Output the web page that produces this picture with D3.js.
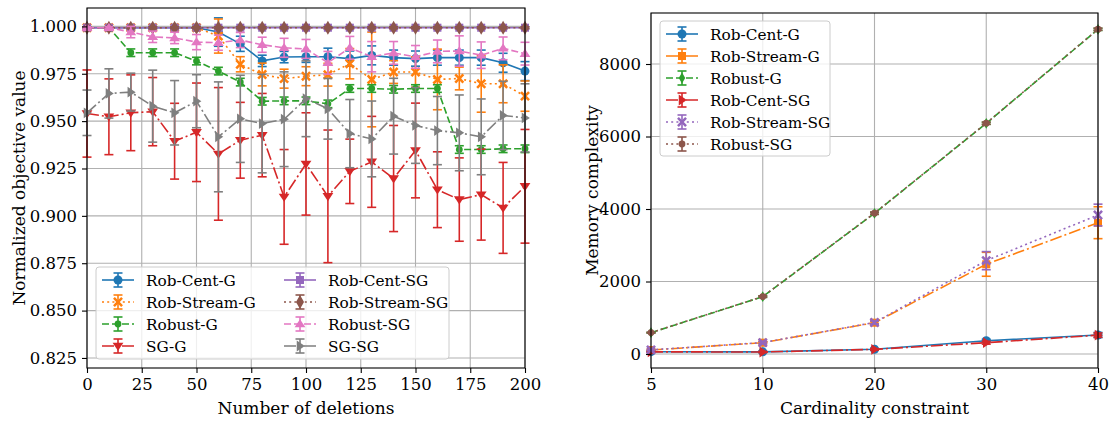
<!DOCTYPE html>
<html>
<head>
<meta charset="utf-8">
<script src="https://cdn.jsdelivr.net/npm/d3@7"></script>
<style>
  body { margin: 0; background: #fff; }
  text { font-family: "DejaVu Serif", serif; fill: #000; }
</style>
</head>
<body>
<div id="chart"></div>
<script>
// ---- left panel data: normalized objective vs number of deletions ----
var deletions = [0, 10, 20, 30, 40, 50, 60, 70, 80, 90, 100, 110, 120, 130, 140, 150, 160, 170, 180, 190, 200];
var delTicks = [0, 25, 50, 75, 100, 125, 150, 175, 200];
var objTicks = [0.825, 0.850, 0.875, 0.900, 0.925, 0.950, 0.975, 1.000];

var robCentG    = [0.9993, 0.9993, 0.9993, 0.9993, 0.9993, 0.9993, 0.9970, 0.9908, 0.9818, 0.9838, 0.9840, 0.9840, 0.9830, 0.9847, 0.9835, 0.9830, 0.9835, 0.9835, 0.9835, 0.9808, 0.9764];
var robCentGErr = [0.0004, 0.0004, 0.0004, 0.0004, 0.0004, 0.0004, 0.0075, 0.004, 0.003, 0.003, 0.003, 0.0045, 0.004, 0.005, 0.004, 0.004, 0.004, 0.004, 0.004, 0.005, 0.005];
var robStreamG    = [0.9993, 0.9993, 0.9993, 0.9993, 0.9993, 0.9993, 0.9949, 0.9800, 0.9746, 0.9724, 0.9737, 0.9745, 0.9803, 0.9720, 0.9759, 0.9759, 0.9720, 0.9725, 0.9697, 0.9697, 0.9632];
var robStreamGErr = [0.0004, 0.0004, 0.0004, 0.0004, 0.0004, 0.0004, 0.009, 0.004, 0.006, 0.005, 0.005, 0.006, 0.008, 0.025, 0.006, 0.008, 0.016, 0.006, 0.015, 0.01, 0.008];
var robustG    = [0.9993, 0.9993, 0.9861, 0.9861, 0.9861, 0.9817, 0.9764, 0.9706, 0.9605, 0.9607, 0.9607, 0.9591, 0.9672, 0.9672, 0.9668, 0.9672, 0.9672, 0.9350, 0.9350, 0.9354, 0.9354];
var robustGErr = [0.0004, 0.0004, 0.002, 0.002, 0.002, 0.002, 0.002, 0.002, 0.002, 0.002, 0.002, 0.002, 0.002, 0.002, 0.002, 0.002, 0.002, 0.002, 0.002, 0.002, 0.002];
var sgG    = [0.9540, 0.9523, 0.9544, 0.9550, 0.9394, 0.9441, 0.9327, 0.9399, 0.9426, 0.9100, 0.9274, 0.9103, 0.9235, 0.9285, 0.9197, 0.9345, 0.9138, 0.9086, 0.9112, 0.9042, 0.9156];
var sgGErr = [0.023, 0.02, 0.02, 0.018, 0.02, 0.026, 0.035, 0.02, 0.022, 0.025, 0.027, 0.035, 0.017, 0.024, 0.028, 0.025, 0.02, 0.022, 0.024, 0.024, 0.03];
var robCentSG    = [0.9993, 0.9993, 0.9993, 0.9993, 0.9993, 0.9993, 0.9993, 0.9993, 0.9993, 0.9993, 0.9993, 0.9993, 0.9993, 0.9993, 0.9993, 0.9993, 0.9993, 0.9993, 0.9993, 0.9993, 0.9993];
var robCentSGErr = [0.0005, 0.0005, 0.0005, 0.0005, 0.0005, 0.0005, 0.0005, 0.0005, 0.0005, 0.0005, 0.0005, 0.0005, 0.0005, 0.0005, 0.0005, 0.0005, 0.0005, 0.0005, 0.0005, 0.0005, 0.0005];
var robStreamSG    = [0.9993, 0.9993, 0.9993, 0.9993, 0.9993, 0.9993, 0.9993, 0.9993, 0.9993, 0.9993, 0.9993, 0.9993, 0.9993, 0.9993, 0.9993, 0.9993, 0.9993, 0.9993, 0.9993, 0.9993, 0.9993];
var robStreamSGErr = [0.0005, 0.0005, 0.0005, 0.0005, 0.0005, 0.0005, 0.0005, 0.0005, 0.0005, 0.0005, 0.0005, 0.0005, 0.0005, 0.0005, 0.0005, 0.0005, 0.0005, 0.0005, 0.0005, 0.0005, 0.0005];
var robustSG    = [0.9993, 0.9993, 0.9970, 0.9945, 0.9939, 0.9917, 0.9914, 0.9928, 0.9903, 0.9887, 0.9881, 0.9808, 0.9887, 0.9840, 0.9860, 0.9839, 0.9868, 0.9870, 0.9848, 0.9884, 0.9856];
var robustSGErr = [0.0005, 0.0005, 0.003, 0.003, 0.003, 0.004, 0.004, 0.004, 0.004, 0.005, 0.005, 0.006, 0.006, 0.008, 0.006, 0.006, 0.006, 0.008, 0.007, 0.006, 0.006];
var sgSG    = [0.9544, 0.9646, 0.9653, 0.9579, 0.9544, 0.9605, 0.9417, 0.9512, 0.9487, 0.9510, 0.9618, 0.9565, 0.9434, 0.9406, 0.9526, 0.9477, 0.9450, 0.9438, 0.9417, 0.9530, 0.9517];
var sgSGErr = [0.012, 0.013, 0.01, 0.019, 0.017, 0.014, 0.029, 0.023, 0.026, 0.025, 0.02, 0.016, 0.018, 0.02, 0.02, 0.02, 0.018, 0.02, 0.02, 0.018, 0.018];

// ---- right panel data: memory vs cardinality constraint ----
var cardinality = ["5", "10", "20", "30", "40"];
var memTicks = [0, 2000, 4000, 6000, 8000];
var memRobCentG       = [64, 60, 130, 367, 524];
var memRobCentGErr    = [15, 15, 20, 40, 70];
var memRobStreamG     = [110, 312, 864, 2475, 3622];
var memRobStreamGErr  = [20, 30, 40, 330, 440];
var memRobustG        = [588, 1581, 3881, 6364, 8955];
var memRobustGErr     = [10, 20, 30, 30, 30];
var memRobCentSG      = [60, 55, 128, 312, 520];
var memRobCentSGErr   = [15, 15, 20, 40, 60];
var memRobStreamSG    = [115, 315, 870, 2575, 3834];
var memRobStreamSGErr = [20, 30, 40, 250, 300];
var memRobustSG       = [590, 1585, 3885, 6368, 8960];
var memRobustSGErr    = [10, 20, 30, 30, 30];

var C = { blue: "#1f77b4", orange: "#ff7f0e", green: "#2ca02c", red: "#d62728",
          purple: "#9467bd", brown: "#8c564b", pink: "#e377c2", gray: "#7f7f7f" };
var DASH = { solid: null, dashed: "7,3", dotted: "2,3.2", dashdot: "12,3,2,3" };

var W = 1113, H = 422;
var svg = d3.select("#chart").append("svg").attr("width", W).attr("height", H);

// marker path generator (roughly matplotlib marker shapes)
function marker(kind, s) {
  if (kind == "o") { return d3.symbol(d3.symbolCircle, s * s * 0.78)(); }
  if (kind == "s") { return d3.symbol(d3.symbolSquare, s * s * 0.8)(); }
  if (kind == "D") { return d3.symbol(d3.symbolDiamond, s * s * 0.7)(); }
  if (kind == "d") { var r = s * 0.6; return "M0," + (-r) + "L" + (r * 0.6) + ",0L0," + r + "L" + (-r * 0.6) + ",0Z"; }
  if (kind == "h") { return d3.symbol(d3.symbolCircle, s * s * 0.45)(); }
  var t = s * 0.6;
  if (kind == "v") { return "M" + (-t) + "," + (-t * 0.6) + "L" + t + "," + (-t * 0.6) + "L0," + (t * 0.9) + "Z"; }
  if (kind == "^") { return "M" + (-t) + "," + (t * 0.6) + "L" + t + "," + (t * 0.6) + "L0," + (-t * 0.9) + "Z"; }
  if (kind == ">") { return "M" + (-t * 0.6) + "," + (-t) + "L" + (-t * 0.6) + "," + t + "L" + (t * 0.9) + ",0Z"; }
  // filled X
  var a = s * 0.55, b = s * 0.2;
  return "M" + (-a) + "," + (-a + b) + "L" + (-a + b) + "," + (-a) + "L0," + (-b) + "L" + (a - b) + "," + (-a) +
    "L" + a + "," + (-a + b) + "L" + b + ",0L" + a + "," + (a - b) + "L" + (a - b) + "," + a + "L0," + b +
    "L" + (-a + b) + "," + a + "L" + (-a) + "," + (a - b) + "L" + (-b) + ",0Z";
}

function drawPanel(g, opt) {
  var x = opt.x, y = opt.y;
  var x0 = x.range()[0], x1 = x.range()[1], y0 = y.range()[0], y1 = y.range()[1];

  // grid
  g.append("g").selectAll("line").data(opt.xGrid).enter().append("line")
    .attr("x1", function (d) { return x(d); }).attr("x2", function (d) { return x(d); })
    .attr("y1", y0).attr("y2", y1).attr("stroke", "#b0b0b0").attr("stroke-width", 1.1);
  g.append("g").selectAll("line").data(opt.yTicks).enter().append("line")
    .attr("y1", function (d) { return y(d); }).attr("y2", function (d) { return y(d); })
    .attr("x1", x0).attr("x2", x1).attr("stroke", "#b0b0b0").attr("stroke-width", 1.1);

  var plot = g.append("g");
  opt.series.forEach(function (s) {
    var pts = opt.xs.map(function (xv, i) { return { x: xv, y: s.values[i], e: s.err[i] }; });
    var sg = plot.append("g");
    // error bars
    sg.selectAll(".eb").data(pts).enter().append("line")
      .attr("x1", function (d) { return x(d.x); }).attr("x2", function (d) { return x(d.x); })
      .attr("y1", function (d) { return y(d.y - d.e); }).attr("y2", function (d) { return y(d.y + d.e); })
      .attr("stroke", s.color).attr("stroke-width", 1.6);
    ["lo", "hi"].forEach(function (k) {
      sg.selectAll(".cap" + k).data(pts).enter().append("line")
        .attr("x1", function (d) { return x(d.x) - 4.5; }).attr("x2", function (d) { return x(d.x) + 4.5; })
        .attr("y1", function (d) { return y(k == "lo" ? d.y - d.e : d.y + d.e); })
        .attr("y2", function (d) { return y(k == "lo" ? d.y - d.e : d.y + d.e); })
        .attr("stroke", s.color).attr("stroke-width", 1.6);
    });
    var line = d3.line().x(function (d) { return x(d.x); }).y(function (d) { return y(d.y); });
    sg.append("path").datum(pts).attr("d", line).attr("fill", "none")
      .attr("stroke", s.color).attr("stroke-width", 1.6).attr("stroke-dasharray", DASH[s.dash]);
    sg.selectAll(".mk").data(pts).enter().append("path")
      .attr("transform", function (d) { return "translate(" + x(d.x) + "," + y(d.y) + ")"; })
      .attr("d", marker(s.marker, opt.msize)).attr("fill", s.color);
  });

  // frame drawn on top
  g.append("rect").attr("x", x0).attr("y", y1).attr("width", x1 - x0).attr("height", y0 - y1)
    .attr("fill", "none").attr("stroke", "#000").attr("stroke-width", 1.1);

  var xa = g.append("g").attr("transform", "translate(0," + y0 + ")")
    .call(opt.xAxis.tickSize(5).tickPadding(5));
  var ya = g.append("g").attr("transform", "translate(" + x0 + ",0)")
    .call(d3.axisLeft(y).tickValues(opt.yTicks).tickFormat(opt.yFormat).tickSize(5).tickPadding(5));
  [xa, ya].forEach(function (a) {
    a.select(".domain").remove();
    a.selectAll("text").style("font-size", "16.5px").style("font-family", "DejaVu Serif");
    a.selectAll("line").attr("stroke-width", 1.1);
  });

  g.append("text").attr("x", (x0 + x1) / 2).attr("y", 414).attr("text-anchor", "middle")
    .style("font-size", "17px").text(opt.xLabel);
  g.append("text").attr("transform", "translate(" + opt.yLabelX + "," + ((y0 + y1) / 2) + ") rotate(-90)")
    .attr("text-anchor", "middle").style("font-size", "17px").text(opt.yLabel);

  // legend
  var L = opt.legend;
  g.append("rect").attr("x", L.x).attr("y", L.y).attr("width", L.w).attr("height", L.h)
    .attr("rx", 3).attr("fill", "#fff").attr("fill-opacity", 0.8).attr("stroke", "#cccccc");
  opt.series.forEach(function (s, i) {
    var col = Math.floor(i / L.rows), row = i % L.rows;
    var lx = L.x + 6 + col * L.colW, ly = L.y + 13 + row * L.rowH;
    var lg = g.append("g");
    lg.append("line").attr("x1", lx).attr("x2", lx + 32).attr("y1", ly).attr("y2", ly)
      .attr("stroke", s.color).attr("stroke-width", 1.6).attr("stroke-dasharray", DASH[s.dash]);
    lg.append("line").attr("x1", lx + 16).attr("x2", lx + 16).attr("y1", ly - 7).attr("y2", ly + 7)
      .attr("stroke", s.color).attr("stroke-width", 1.6);
    [-7, 7].forEach(function (o) {
      lg.append("line").attr("x1", lx + 11.5).attr("x2", lx + 20.5).attr("y1", ly + o).attr("y2", ly + o)
        .attr("stroke", s.color).attr("stroke-width", 1.6);
    });
    lg.append("path").attr("transform", "translate(" + (lx + 16) + "," + ly + ")")
      .attr("d", marker(s.marker, opt.msize)).attr("fill", s.color);
    lg.append("text").attr("x", lx + 44).attr("y", ly + 5.5).style("font-size", "15.3px").text(s.name);
  });
}

// left panel
var xl = d3.scaleLinear().domain([0, 200]).range([87, 525]);
var yl = d3.scaleLinear().domain([0.8197, 1.0097]).range([368, 8]);
drawPanel(svg.append("g"), {
  x: xl, y: yl, xs: deletions, xGrid: delTicks, yTicks: objTicks,
  xAxis: d3.axisBottom(xl).tickValues(delTicks).tickFormat(d3.format("d")),
  yFormat: d3.format(".3f"), msize: 9,
  xLabel: "Number of deletions", yLabel: "Normalized objective value", yLabelX: 25,
  legend: { x: 96, y: 267, w: 353, h: 92, rows: 4, rowH: 22, colW: 182 },
  series: [
    { name: "Rob-Cent-G", values: robCentG, err: robCentGErr, color: C.blue, dash: "solid", marker: "o" },
    { name: "Rob-Stream-G", values: robStreamG, err: robStreamGErr, color: C.orange, dash: "dotted", marker: "X" },
    { name: "Robust-G", values: robustG, err: robustGErr, color: C.green, dash: "dashed", marker: "h" },
    { name: "SG-G", values: sgG, err: sgGErr, color: C.red, dash: "dashdot", marker: "v" },
    { name: "Rob-Cent-SG", values: robCentSG, err: robCentSGErr, color: C.purple, dash: "solid", marker: "s" },
    { name: "Rob-Stream-SG", values: robStreamSG, err: robStreamSGErr, color: C.brown, dash: "dotted", marker: "D" },
    { name: "Robust-SG", values: robustSG, err: robustSGErr, color: C.pink, dash: "dashed", marker: "^" },
    { name: "SG-SG", values: sgSG, err: sgSGErr, color: C.gray, dash: "dashdot", marker: ">" }
  ]
});

// right panel
var xr = d3.scalePoint().domain(cardinality).range([651, 1098]);
var yr = d3.scaleLinear().domain([-386, 9407]).range([368, 13]);
drawPanel(svg.append("g"), {
  x: xr, y: yr, xs: cardinality, xGrid: cardinality, yTicks: memTicks,
  xAxis: d3.axisBottom(xr), yFormat: d3.format("d"), msize: 9,
  xLabel: "Cardinality constraint", yLabel: "Memory complexity", yLabelX: 598,
  legend: { x: 660, y: 21, w: 170, h: 135, rows: 6, rowH: 22, colW: 0 },
  series: [
    { name: "Rob-Cent-G", values: memRobCentG, err: memRobCentGErr, color: C.blue, dash: "solid", marker: "o" },
    { name: "Rob-Stream-G", values: memRobStreamG, err: memRobStreamGErr, color: C.orange, dash: "dashdot", marker: "s" },
    { name: "Robust-G", values: memRobustG, err: memRobustGErr, color: C.green, dash: "dashed", marker: "d" },
    { name: "Rob-Cent-SG", values: memRobCentSG, err: memRobCentSGErr, color: C.red, dash: "dashdot", marker: ">" },
    { name: "Rob-Stream-SG", values: memRobStreamSG, err: memRobStreamSGErr, color: C.purple, dash: "dotted", marker: "X" },
    { name: "Robust-SG", values: memRobustSG, err: memRobustSGErr, color: C.brown, dash: "dotted", marker: "h" }
  ]
});
</script>
</body>
</html>
